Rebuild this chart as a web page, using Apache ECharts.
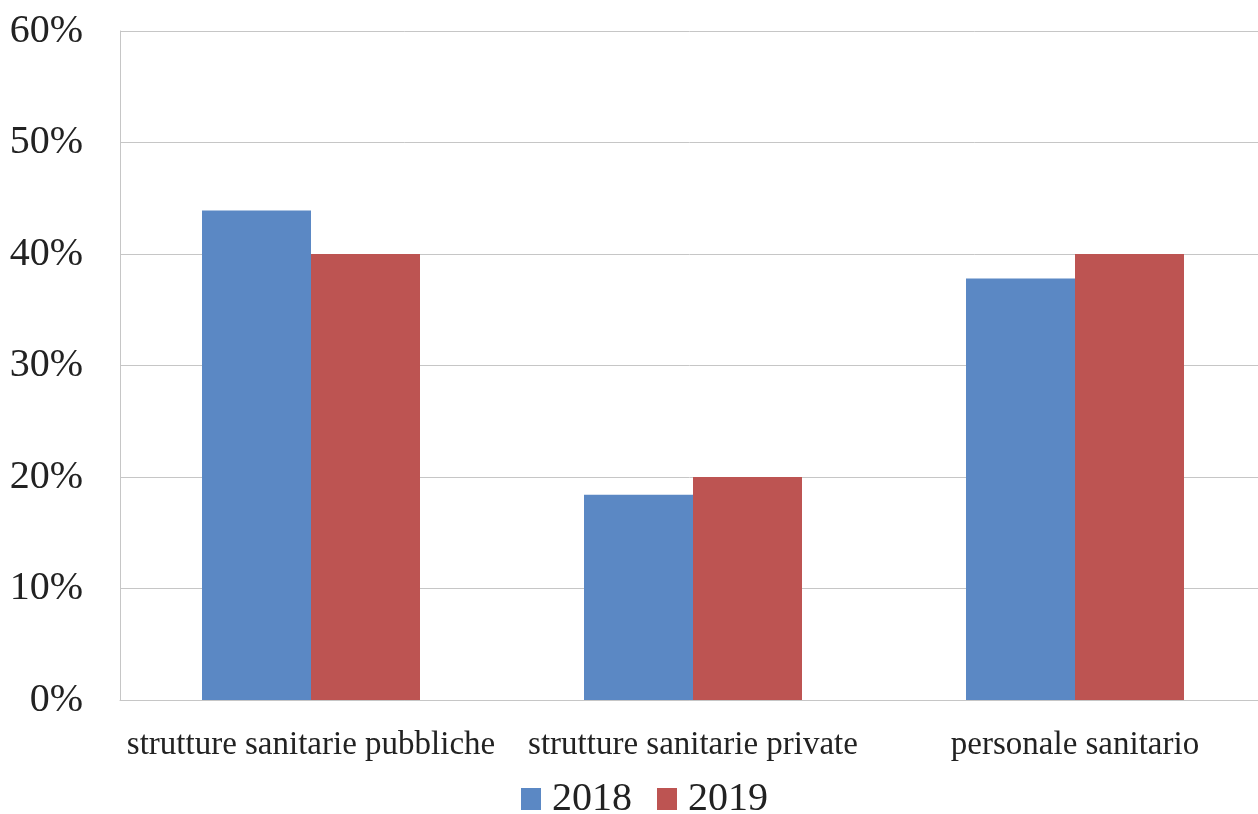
<!DOCTYPE html>
<html>
<head>
<meta charset="utf-8">
<script src="https://cdn.jsdelivr.net/npm/echarts@6/dist/echarts.min.js"></script>
<style>html,body{margin:0;padding:0;background:#fff}#c{width:1258px;height:814px}</style>
</head>
<body>
<div id="c"></div>
<script>
const categories = ["strutture sanitarie pubbliche", "strutture sanitarie private", "personale sanitario"];
const seriesNames = ["2018", "2019"];
const values2018 = [43.9, 18.4, 37.8];
const values2019 = [40.0, 20.0, 40.0];
const yTicks = [0, 10, 20, 30, 40, 50, 60];

const FONT = "Liberation Serif";
const chart = echarts.init(document.getElementById('c'), null, {renderer: 'canvas'});
chart.setOption({
  animation: false,
  backgroundColor: '#ffffff',
  grid: {left: 120, width: 1146, top: 31, bottom: 114, containLabel: false, outerBoundsMode: 'none'},
  legend: {
    data: seriesNames,
    left: 516, top: 774,
    itemWidth: 20, itemHeight: 22, itemGap: 25,
    icon: 'rect',
    textStyle: {fontFamily: FONT, fontSize: 40, color: '#222', padding: [0, 0, 0, 6]}
  },
  xAxis: {
    type: 'category',
    data: categories,
    axisLine: {lineStyle: {color: '#c6c6c6', width: 1}},
    axisTick: {show: false},
    axisLabel: {fontFamily: FONT, fontSize: 33, color: '#222', margin: 29, interval: 0}
  },
  yAxis: {
    type: 'value',
    min: yTicks[0], max: yTicks[yTicks.length - 1], interval: 10,
    axisLine: {show: true, lineStyle: {color: '#c6c6c6', width: 1}},
    axisTick: {show: false},
    splitLine: {lineStyle: {color: '#c6c6c6', width: 1}},
    axisLabel: {fontFamily: FONT, fontSize: 40, color: '#222', margin: 37, formatter: '{value}%'}
  },
  series: [
    {name: seriesNames[0], type: 'bar', data: values2018, barWidth: 109, barGap: '0%', itemStyle: {color: '#5B88C4'}},
    {name: seriesNames[1], type: 'bar', data: values2019, barWidth: 109, barGap: '0%', itemStyle: {color: '#BD5452'}}
  ]
});
</script>
</body>
</html>
